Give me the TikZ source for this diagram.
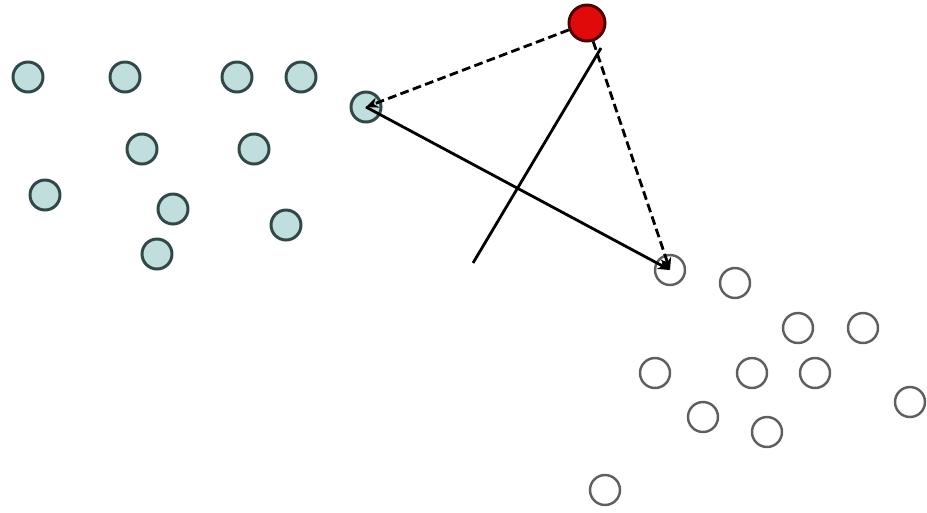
\documentclass[tikz,border=0pt]{standalone}
\usepackage{tikz}
\usetikzlibrary{arrows.meta}
\definecolor{tealfill}{RGB}{192,222,222}
\definecolor{tealline}{RGB}{50,72,72}
\definecolor{greyline}{RGB}{95,95,95}
\definecolor{redfill}{RGB}{225,10,10}

\begin{document}
\begin{tikzpicture}[x=0.02cm, y=-0.02cm,
        seed/.style={circle, draw=tealline, fill=tealfill, line width=1.7pt, minimum size=0.6cm, inner sep=0pt},
        blank/.style={circle, draw=greyline, fill=white, line width=1.4pt, minimum size=0.6cm, inner sep=0pt},
        query/.style={circle, draw=black!70!red, fill=redfill, line width=1.7pt, minimum size=0.72cm, inner sep=0pt},
        arrow/.style={-{Stealth[length=7pt,width=6pt]}, line width=1.6pt},
        dasharrow/.style={arrow, dash pattern=on 5pt off 2.5pt}]

    \useasboundingbox (0,0) rectangle (927,512);

    % left cluster
    \node (a1) [seed] at (28, 77) {};
    \node (a2) [seed] at (125, 77) {};
    \node (a3) [seed] at (237, 77) {};
    \node (a4) [seed] at (301, 77) {};
    \node (a5) [seed] at (142, 149) {};
    \node (a6) [seed] at (254, 149) {};
    \node (a7) [seed] at (45, 195) {};
    \node (a8) [seed] at (173, 209) {};
    \node (a9) [seed] at (286, 225) {};
    \node (a10) [seed] at (157, 254) {};
    \node (near) [seed] at (366, 107) {};

    % right cluster
    \node (far) [blank] at (670, 270) {};
    \node (b1) [blank] at (735, 283) {};
    \node (b2) [blank] at (798, 328) {};
    \node (b3) [blank] at (863, 328) {};
    \node (b4) [blank] at (655, 373) {};
    \node (b5) [blank] at (752, 373) {};
    \node (b6) [blank] at (815, 373) {};
    \node (b7) [blank] at (910, 402) {};
    \node (b8) [blank] at (703, 417) {};
    \node (b9) [blank] at (767, 432) {};
    \node (b10) [blank] at (605, 490) {};

    % query point
    \node (red) [query] at (587, 23) {};

    \coordinate (top) at (601, 48);
    \coordinate (bot) at (473, 263);

    \draw [dasharrow] (red) -- (near.center);
    \draw [dasharrow] (red) -- (far.center);
    \draw [arrow] (near.center) -- (far.center);
    \draw [line width=1.6pt] (top) -- (bot);
\end{tikzpicture}
\end{document}
